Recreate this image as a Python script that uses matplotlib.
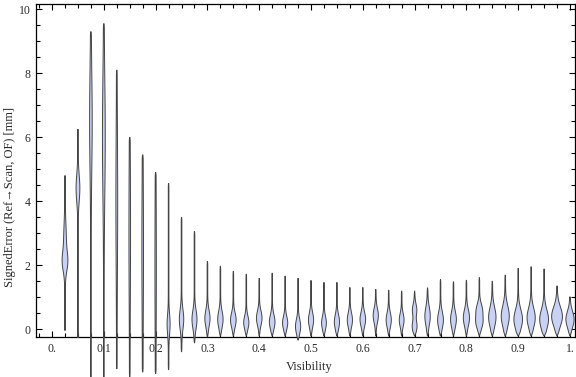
import numpy as np
import matplotlib
matplotlib.use('Agg')
import matplotlib.pyplot as plt
from matplotlib.ticker import MultipleLocator, FixedLocator

plt.rcParams['font.family'] = ['Liberation Serif', 'DejaVu Serif']

# violin positions (visibility bins)
visibility = [0.025, 0.05, 0.075, 0.1, 0.125, 0.15, 0.175, 0.2, 0.225, 0.25,
              0.275, 0.3, 0.325, 0.35, 0.375, 0.4, 0.425, 0.45, 0.475, 0.5,
              0.525, 0.55, 0.575, 0.6, 0.625, 0.65, 0.675, 0.7, 0.725, 0.75,
              0.775, 0.8, 0.825, 0.85, 0.875, 0.9, 0.925, 0.95, 0.975, 1.0]

# min / max of signed error per bin [mm]
err_lo = [-0.05, -0.28, -1.5, -1.6, -1.25, -1.5, -1.35, -1.4, -1.28, -0.72,
          -0.44, -0.25, -0.22, -0.22, -0.22, -0.22, -0.22, -0.22, -0.35, -0.22,
          -0.22, -0.22, -0.22, -0.22, -0.22, -0.22, -0.22, -0.22, -0.22, -0.22,
          -0.22, -0.22, -0.22, -0.22, -0.22, -0.22, -0.22, -0.22, -0.22, -0.22]
err_hi = [4.8, 6.25, 9.3, 9.55, 8.1, 6.0, 5.45, 4.9, 4.56, 3.5,
          3.06, 2.12, 1.97, 1.81, 1.72, 1.59, 1.75, 1.66, 1.59, 1.52,
          1.46, 1.46, 1.30, 1.30, 1.24, 1.22, 1.19, 1.19, 1.29, 1.55,
          1.48, 1.53, 1.61, 1.50, 1.69, 1.90, 1.95, 1.88, 1.35, 1.01]

# main density bulge: location, spread, half width (px)
mode1 = [2.1, 4.4, 6.5, 6.0, 4.0, 3.0, 2.5, 2.0, 0.15, 0.3,
         0.3, 0.33, 0.3, 0.28, 0.2, 0.34, 0.22, 0.19, 0.08, 0.28,
         0.19, 0.22, 0.28, 0.3, 0.42, 0.28, 0.28, 0.08, 0.4, 0.28,
         0.3, 0.35, 0.2, 0.37, 0.4, 0.3, 0.35, 0.3, 0.39, 0.3]
spread1 = [0.3, 0.4, 1.5, 1.8, 2.0, 2.0, 2.0, 2.0, 0.3, 0.3,
           0.28, 0.25, 0.25, 0.22, 0.2, 0.22, 0.22, 0.2, 0.22, 0.22,
           0.2, 0.22, 0.22, 0.22, 0.22, 0.22, 0.2, 0.18, 0.28, 0.25,
           0.25, 0.25, 0.2, 0.3, 0.32, 0.3, 0.3, 0.3, 0.3, 0.25]
width1 = [2.2, 1.6, 1.0, 1.1, 0.6, 0.5, 0.5, 0.4, 1.2, 1.9,
          2.2, 2.3, 2.4, 2.5, 2.3, 2.5, 2.5, 2.3, 2.3, 2.3,
          2.1, 2.3, 2.3, 2.5, 2.3, 2.3, 2.1, 2.1, 2.4, 2.6,
          2.6, 2.8, 3.0, 3.4, 3.7, 4.0, 3.8, 4.1, 5.1, 3.8]

# secondary bulge for a few bins
mode2 = {0: 2.8, 27: 0.6, 32: 0.6}
spread2 = {0: 0.5, 27: 0.18, 32: 0.2}
width2 = {0: 1.0, 27: 1.9, 32: 2.6}

fig = plt.figure(figsize=(5.76, 3.77), dpi=100)
ax = fig.add_axes([0.0625, 0.1061, 0.9358, 0.8833])

px = 1.0 / 518.0  # data units of one pixel along x
for i, xv in enumerate(visibility):
    y = np.linspace(err_lo[i], err_hi[i], 400)
    w = 0.3 + width1[i] * np.exp(-0.5 * ((y - mode1[i]) / spread1[i]) ** 2)
    if i in mode2:
        w += width2[i] * np.exp(-0.5 * ((y - mode2[i]) / spread2[i]) ** 2)
    taper = np.clip(np.minimum(y - err_lo[i], err_hi[i] - y) / 0.12, 0, 1) ** 0.5
    w = w * taper * px
    xs = np.concatenate([xv - w, (xv + w)[::-1]])
    ys = np.concatenate([y, y[::-1]])
    ax.fill(xs, ys, facecolor='#c9d1f5', edgecolor='#444444', linewidth=0.7,
            clip_on=False, zorder=3)

ax.set_xlim(-0.031, 1.0097)
ax.set_ylim(-0.25, 10.16)

ax.xaxis.set_major_locator(FixedLocator([0, 0.1, 0.2, 0.3, 0.4, 0.5, 0.6, 0.7, 0.8, 0.9, 1.0]))
ax.xaxis.set_minor_locator(MultipleLocator(0.025))
ax.set_xticklabels(['0.', '0.1', '0.2', '0.3', '0.4', '0.5', '0.6', '0.7', '0.8', '0.9', '1.'])
ax.yaxis.set_major_locator(FixedLocator([0, 2, 4, 6, 8, 10]))
ax.yaxis.set_minor_locator(MultipleLocator(0.5))
ax.set_yticklabels(['0', '2', '4', '6', '8', '10'])

ax.tick_params(which='both', direction='in', top=True, right=True,
               colors='black', labelcolor='#2b2b2b', labelsize=8.5, width=0.8)
ax.tick_params(which='major', length=4.5, pad=4)
ax.tick_params(which='minor', length=3)

for s in ax.spines.values():
    s.set_linewidth(0.9)

ax.set_xlabel('Visibility', fontsize=9, color='#2b2b2b')
ax.set_ylabel('SignedError (Ref\u2192Scan, OF) [mm]', fontsize=9, color='#2b2b2b')
ax.xaxis.set_label_coords(0.507, -0.072)
ax.yaxis.set_label_coords(-0.037, 0.42)

fig.savefig('out.png', dpi=100)
